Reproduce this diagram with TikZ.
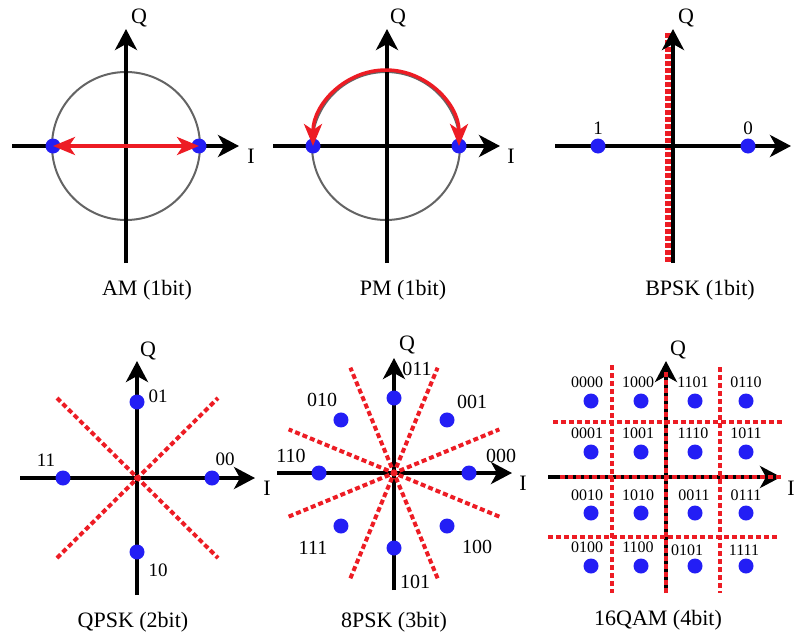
\documentclass[tikz,border=0pt]{standalone}
\usepackage{fontspec}
\setmainfont{Liberation Serif}
\usetikzlibrary{arrows.meta,calc}
\definecolor{dotblue}{RGB}{35,30,245}
\definecolor{myred}{RGB}{237,28,36}
\definecolor{circgray}{RGB}{100,100,100}
\begin{document}
\begin{tikzpicture}[x=1pt,y=-1pt,
  axis/.style={line width=4pt,-{Stealth[length=21pt,width=22pt,inset=6pt]}},
  dot/.style={circle,fill=dotblue,inner sep=0pt,minimum size=15pt},
  reddash/.style={myred,line width=4pt,dash pattern=on 5pt off 3pt},
  lbl/.style={font=\fontsize{20}{24}\selectfont,inner sep=0pt},
  axlbl/.style={font=\fontsize{22}{26}\selectfont,inner sep=0pt},
  captxt/.style={font=\fontsize{22}{26}\selectfont,inner sep=0pt,anchor=base},
  smalllbl/.style={font=\fontsize{19}{21}\selectfont,inner sep=0pt},
  tinylbl/.style={font=\fontsize{16}{18}\selectfont,inner sep=0pt},
  redarrow/.style={myred,line width=3.5pt,
    {Stealth[length=22pt,width=18pt,inset=6pt]}-{Stealth[length=22pt,width=18pt,inset=6pt]}},
  ring/.style={circgray,line width=2pt}]
\path[use as bounding box] (0,0) rectangle (798,632);

% ---------------- AM ----------------
\coordinate (amC) at (126,146);
\coordinate (amW) at (12,146);
\coordinate (amE) at (239,146);
\coordinate (amS) at (126,263);
\coordinate (amN) at (126,29);
\draw[ring] (amC) circle[radius=74];
\draw[axis] (amW) -- (amE);
\draw[axis] (amS) -- (amN);
\node[dot] (amL) at (53,146) {};
\node[dot] (amR) at (199,146) {};
\draw[redarrow] (amL.center) -- (amR.center);
\node[axlbl] (amQ) at (139,18) {Q};
\node[axlbl] (amI) at (251,156) {I};
\node[captxt] (amT) at (147,295) {AM (1bit)};

% ---------------- PM ----------------
\coordinate (pmC) at (386,146);
\coordinate (pmW) at (273,146);
\coordinate (pmE) at (500,146);
\coordinate (pmS) at (387,263);
\coordinate (pmN) at (387,29);
\draw[ring] (pmC) circle[radius=74];
\draw[axis] (pmW) -- (pmE);
\draw[axis] (pmS) -- (pmN);
\node[dot] (pmL) at (313,146) {};
\node[dot] (pmR) at (459,146) {};
\draw[redarrow] (pmL.center) arc[start angle=180,end angle=360,x radius=73,y radius=76];
\node[axlbl] (pmQ) at (398,18) {Q};
\node[axlbl] (pmI) at (511,156) {I};
\node[captxt] (pmT) at (403,295) {PM (1bit)};

% ---------------- BPSK ----------------
\coordinate (bpW) at (555,146);
\coordinate (bpE) at (791,146);
\coordinate (bpS) at (673,263);
\coordinate (bpN) at (673,29);
\coordinate (bpRt) at (668,33);
\coordinate (bpRb) at (668,262);
\draw[myred,line width=6pt,dash pattern=on 5pt off 2pt] (bpRt) -- (bpRb);
\draw[axis] (bpW) -- (bpE);
\draw[axis] (bpS) -- (bpN);
\node[dot] (bp1) at (598,146) {};
\node[dot] (bp0) at (748,146) {};
\node[smalllbl] (bpl1) at (598,128) {1};
\node[smalllbl] (bpl0) at (748,128) {0};
\node[axlbl] (bpQ) at (686,18) {Q};
\node[captxt] (bpT) at (700,295) {BPSK (1bit)};

% ---------------- QPSK ----------------
\coordinate (qpC) at (137,478);
\coordinate (qpW) at (20,478);
\coordinate (qpE) at (255,478);
\coordinate (qpS) at (137,595);
\coordinate (qpN) at (137,361);
\coordinate (qpA1) at (57,398);
\coordinate (qpA2) at (218,558);
\coordinate (qpB1) at (57,558);
\coordinate (qpB2) at (218,398);
\draw[axis] (qpW) -- (qpE);
\draw[axis] (qpS) -- (qpN);
\draw[reddash] (qpA1) -- (qpA2);
\draw[reddash] (qpB1) -- (qpB2);
\fill[myred] (qpC) circle[radius=3];
\node[dot] (qp11) at (63,478) {};
\node[dot] (qp00) at (212,478) {};
\node[dot] (qp01) at (137,402) {};
\node[dot] (qp10) at (137,552) {};
\node[smalllbl] (qpl01) at (158,396) {01};
\node[smalllbl] (qpl11) at (46,460) {11};
\node[smalllbl] (qpl00) at (225,459) {00};
\node[smalllbl] (qpl10) at (158,570) {10};
\node[axlbl] (qpQ) at (148,351) {Q};
\node[axlbl] (qpI) at (267,488) {I};
\node[captxt] (qpT) at (133,627) {QPSK (2bit)};

% ---------------- 8PSK ----------------
\coordinate (psC) at (394,473);
\coordinate (psW) at (277,473);
\coordinate (psE) at (512,473);
\coordinate (psS) at (394,590);
\coordinate (psN) at (394,358);
\draw[axis] (psW) -- (psE);
\draw[axis] (psS) -- (psN);
\foreach \a in {22.5,67.5,112.5,157.5}{
  \draw[reddash] ($(psC)+(\a:114)$) -- ($(psC)+(\a+180:114)$);
}
\fill[myred] (psC) circle[radius=3.5];
\foreach \a/\n in {0/a,45/b,90/c,135/d,180/e,225/f,270/g,315/h}{
  \node[dot] (ps\n) at ($(psC)+(\a:75)$) {};
}
\node[lbl] (psl011) at (417,369) {011};
\node[lbl] (psl001) at (472,402) {001};
\node[lbl] (psl010) at (322,400) {010};
\node[lbl] (psl110) at (291,456) {110};
\node[lbl] (psl000) at (501,456) {000};
\node[lbl] (psl111) at (313,548) {111};
\node[lbl] (psl100) at (477,547) {100};
\node[lbl] (psl101) at (415,582) {101};
\node[axlbl] (psQ) at (407,345) {Q};
\node[axlbl] (psI) at (523,483) {I};
\node[captxt] (psT) at (394,627) {8PSK (3bit)};

% ---------------- 16QAM ----------------
\coordinate (qmW) at (548,477);
\coordinate (qmE) at (781,477);
\coordinate (qmS) at (666,593);
\coordinate (qmN) at (666,361);
\draw[axis] (qmW) -- (qmE);
\draw[axis] (qmS) -- (qmN);
\coordinate (qmV1t) at (612,365); \coordinate (qmV1b) at (612,593);
\coordinate (qmV2t) at (720,367); \coordinate (qmV2b) at (720,593);
\coordinate (qmV3t) at (666,372); \coordinate (qmV3b) at (666,593);
\coordinate (qmH1l) at (553,422); \coordinate (qmH1r) at (782,422);
\coordinate (qmH2l) at (548,537); \coordinate (qmH2r) at (778,537);
\coordinate (qmH3l) at (560,477); \coordinate (qmH3r) at (782,477);
\draw[reddash] (qmV1t) -- (qmV1b);
\draw[reddash] (qmV2t) -- (qmV2b);
\draw[reddash] (qmV3t) -- (qmV3b);
\draw[reddash] (qmH1l) -- (qmH1r);
\draw[reddash] (qmH2l) -- (qmH2r);
\draw[reddash] (qmH3l) -- (qmH3r);
\foreach \x/\c in {591/1,641/2,695/3,746/4}{
  \foreach \y/\r in {401/1,452/2,513/3,566/4}{
    \node[dot] (qm\r\c) at (\x,\y) {};
  }
}
\foreach \x/\y/\t in {587/382/0000,638/382/1000,693/382/1101,746/382/0110,
                      587/433/0001,638/433/1001,693/433/1110,746/433/1011,
                      587/495/0010,638/495/1010,694/495/0011,746/495/0111,
                      587/547/0100,638/547/1100,687/550/0101,744/550/1111}{
  \node[tinylbl] (qml\t) at (\x,\y) {\t};
}
\node[axlbl] (qmQ) at (678,350) {Q};
\node[axlbl] (qmI) at (791,488) {I};
\node[captxt] (qmT) at (658,625) {16QAM (4bit)};
\end{tikzpicture}
\end{document}
